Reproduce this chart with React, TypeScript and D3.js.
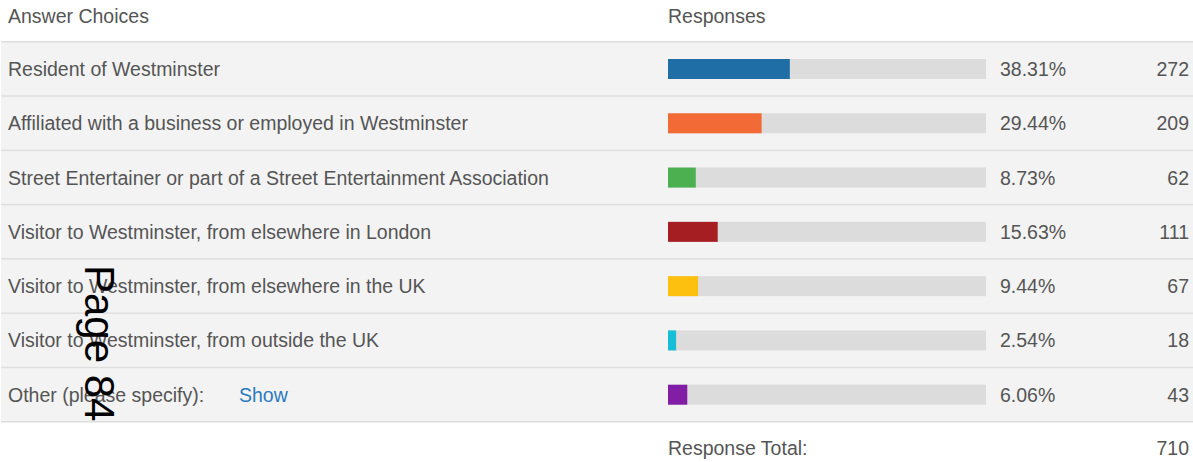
import React from "react";
import * as d3 from "d3";

const choices = [
  "Resident of Westminster",
  "Affiliated with a business or employed in Westminster",
  "Street Entertainer or part of a Street Entertainment Association",
  "Visitor to Westminster, from elsewhere in London",
  "Visitor to Westminster, from elsewhere in the UK",
  "Visitor to Westminster, from outside the UK",
  "Other (please specify):",
];
const percents = [38.31, 29.44, 8.73, 15.63, 9.44, 2.54, 6.06];
const counts = [272, 209, 62, 111, 67, 18, 43];
const colors = ["#1f6fa6", "#f26a35", "#4caf50", "#a51e22", "#fec00f", "#16bed8", "#821ea6"];
const total = 710;

const W = 1193;
const H = 462;
const FONT = "'Liberation Sans', Arial, Helvetica, sans-serif";
const FS = 19.5;

export default function App() {
  const rows = d3.range(choices.length);
  const y = d3.scaleBand<number>().domain(rows).range([41, 421]).padding(0);
  const x = d3.scaleLinear().domain([0, 100]).range([668, 986]);
  const barH = 20;
  return (
    <svg
      width={W}
      height={H}
      style={{ position: "absolute", left: 0, top: 0, background: "#fff" }}
      fontFamily={FONT}
    >
      <text x={8} y={23} fontSize={FS} fill="#555">Answer Choices</text>
      <text x={668} y={23} fontSize={FS} fill="#555">Responses</text>
      {rows.map((i) => {
        const top = y(i)!;
        const bh = y.bandwidth();
        const cy = top + 28;
        return (
          <g key={i}>
            <rect x={1} y={top} width={W - 1} height={bh} fill="#f3f3f3" />
            <rect x={1} y={top} width={W - 1} height={1.5} fill="#dedede" />
            <text x={8} y={cy + 7} fontSize={FS} fill="#555">{choices[i]}</text>
            {i === choices.length - 1 && (
              <text x={239} y={cy + 7} fontSize={FS} fill="#2a7ac0">Show</text>
            )}
            <rect x={x(0)} y={cy - barH / 2} width={x(100) - x(0)} height={barH} fill="#dcdcdc" />
            <rect x={x(0)} y={cy - barH / 2} width={x(percents[i]) - x(0)} height={barH} fill={colors[i]} />
            <text x={1000} y={cy + 7} fontSize={FS} fill="#555">{percents[i].toFixed(2)}%</text>
            <text x={1189} y={cy + 7} fontSize={FS} fill="#555" textAnchor="end">{counts[i]}</text>
          </g>
        );
      })}
      <rect x={1} y={421} width={W - 1} height={1.5} fill="#dedede" />
      <text x={668} y={455} fontSize={FS} fill="#555">Response Total:</text>
      <text x={1189} y={455} fontSize={FS} fill="#555" textAnchor="end">{total}</text>
      <text transform="translate(85,265) rotate(90)" fontSize={42} fill="#000">Page 84</text>
    </svg>
  );
}
